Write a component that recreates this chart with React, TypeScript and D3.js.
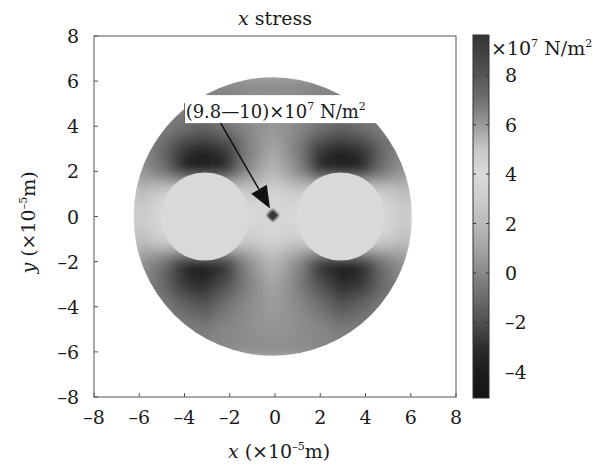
import * as d3 from 'd3';

// x stress in a fibre cross-section, values in 10^7 N/m^2
const gridX = [-6, -5, -4, -3, -2, -1, 0, 1, 2, 3, 4, 5, 6];
const gridY = [6, 5, 4, 3, 2, 1, 0, -1, -2, -3, -4, -5, -6];
const stress = [
  [0, 0, 0, 0, 0, 0.1, 0.1, 0.1, 0, 0, 0, 0, 0],
  [0, 0, -0.2, -0.4, -0.3, 0.2, 0.4, 0.2, -0.3, -0.4, -0.2, 0, 0],
  [0, -0.2, -0.8, -1.3, -0.6, 0.1, 0.6, 0.1, -0.6, -1.3, -0.8, -0.2, 0],
  [0.2, -1.0, -2.9, -3.8, -2.8, -0.3, 1.2, -0.3, -2.8, -3.8, -2.9, -1.0, 0.2],
  [0.6, -0.6, -3.9, -4.7, -3.7, 0.3, 2.0, 0.3, -3.7, -4.7, -3.9, -0.6, 0.6],
  [2.0, 3.2, 3.9, 3.9, 3.9, 3.0, 3.7, 3.0, 3.9, 3.9, 3.9, 3.2, 2.0],
  [2.7, 3.9, 3.9, 3.9, 3.9, 4.0, 4.3, 4.0, 3.9, 3.9, 3.9, 3.9, 2.7],
  [2.0, 3.2, 3.9, 3.9, 3.9, 3.0, 3.7, 3.0, 3.9, 3.9, 3.9, 3.2, 2.0],
  [0.6, -0.6, -3.7, -4.6, -3.5, 0.3, 2.0, 0.3, -3.5, -4.6, -3.7, -0.6, 0.6],
  [0.2, -1.0, -2.8, -3.4, -2.0, -0.2, 1.2, -0.2, -2.0, -3.4, -2.8, -1.0, 0.2],
  [0, -0.3, -1.2, -1.9, -0.7, 0.2, 0.7, 0.2, -0.7, -1.9, -1.2, -0.3, 0],
  [0, 0, -0.3, -0.5, 0, 0.3, 0.5, 0.3, 0, -0.5, -0.3, 0, 0],
  [0, 0, 0, 0, 0, 0.1, 0.1, 0.1, 0, 0, 0, 0, 0],
];

const fiber = { x: -0.1, y: 0, r: 6.15 };
const holeCenters = [-3.1, 2.9];
const holeRadius = 1.95;
const holeStress = 3.9;
const peak = { x: -0.1, y: 0.05, value: 9.9 };

// grey colour map (jet printed in greyscale)
const mapValues = [-5.1, -4, -3, -2, -1, 0, 1, 2, 3, 4, 5, 6, 7, 8, 9, 9.7];
const mapGreys = ['#141414', '#1c1c1c', '#2e2e2e', '#505050', '#6c6c6c', '#888888', '#a4a4a4', '#bababa',
  '#cdcdcd', '#dadada', '#c8c8c8', '#9a9a9a', '#707070', '#555555', '#404040', '#363636'];
const barDomain = [-5.06, 9.63];
const barTicks = [-4, -2, 0, 2, 4, 6, 8];
const axisTicks = [-8, -6, -4, -2, 0, 2, 4, 6, 8];

const note = { x: -3.95, y: 4.36, boxX0: -4.0, boxX1: 4.56, boxY0: 4.14, boxY1: 5.38, fromX: -2.4, fromY: 4.14, toX: -0.22, toY: 0.36 };

const FONT = '"DejaVu Serif", serif';
const INK = '#1a1a1a';
const fmt = (d: number) => (d < 0 ? `–${-d}` : `${d}`);

export default function App() {
  const x = d3.scaleLinear().domain([-8, 8]).range([94, 456]);
  const y = d3.scaleLinear().domain([-8, 8]).range([397, 36]);
  const color = d3.scaleLinear<string>().domain(mapValues).range(mapGreys).clamp(true);
  const cy = d3.scaleLinear().domain(barDomain).range([398, 35]);
  const unit = x(1) - x(0);

  const cells = stress.flatMap((row, i) =>
    row.map((v, j) => ({ gx: gridX[j] + fiber.x, gy: gridY[i] + fiber.y, v }))
  );

  // arrow head
  const ang = Math.atan2(y(note.toY) - y(note.fromY), x(note.toX) - x(note.fromX));
  const hl = 22, hw = 9;
  const tx = x(note.toX), ty = y(note.toY);
  const bx = tx - hl * Math.cos(ang), by = ty - hl * Math.sin(ang);
  const head = [
    [tx, ty],
    [bx + hw * Math.sin(ang), by - hw * Math.cos(ang)],
    [bx - hw * Math.sin(ang), by + hw * Math.cos(ang)],
  ];

  const barLeft = 473, barRight = 489;

  return (
    <svg width={615} height={465} style={{ position: 'absolute', left: 0, top: 0, background: '#fff' }} fontFamily={FONT}>
      <defs>
        <clipPath id="fiber">
          <circle cx={x(fiber.x)} cy={y(fiber.y)} r={fiber.r * unit} />
        </clipPath>
        <filter id="smooth" x="-10%" y="-10%" width="120%" height="120%">
          <feGaussianBlur stdDeviation={9} />
        </filter>
        <filter id="soft">
          <feGaussianBlur stdDeviation={1.2} />
        </filter>
        <linearGradient id="bar" x1="0" y1="1" x2="0" y2="0">
          {mapValues.map((v, i) => (
            <stop key={i} offset={(v - barDomain[0]) / (barDomain[1] - barDomain[0])} stopColor={mapGreys[i]} />
          ))}
        </linearGradient>
      </defs>

      {/* field */}
      <g clipPath="url(#fiber)">
        <g filter="url(#smooth)">
          {cells.map((c, i) => (
            <rect key={i} x={x(c.gx - 0.5)} y={y(c.gy + 0.5)} width={unit + 0.5} height={unit + 0.5} fill={color(c.v)} />
          ))}
        </g>
      </g>
      {holeCenters.map((hx, i) => (
        <circle key={i} cx={x(hx)} cy={y(fiber.y)} r={holeRadius * unit} fill={color(holeStress)} />
      ))}
      <rect x={x(peak.x) - 4.5} y={y(peak.y) - 4.5} width={9} height={9} fill={color(peak.value)}
        transform={`rotate(45 ${x(peak.x)} ${y(peak.y)})`} filter="url(#soft)" />

      {/* frame */}
      <rect x={94} y={36} width={362} height={361} fill="none" stroke="#555" strokeWidth={1} />
      {axisTicks.map((t) => (
        <g key={t} stroke="#555">
          <line x1={x(t)} x2={x(t)} y1={397} y2={393} />
          <line x1={94} x2={98} y1={y(t)} y2={y(t)} />
        </g>
      ))}
      {axisTicks.map((t) => (
        <text key={'x' + t} x={x(t)} y={424} textAnchor="middle" fontSize={19} fill={INK}>{fmt(t)}</text>
      ))}
      {axisTicks.map((t) => (
        <text key={'y' + t} x={79} y={y(t) + 7} textAnchor="end" fontSize={19} fill={INK}>{fmt(t)}</text>
      ))}

      <text x={x(0)} y={25} textAnchor="middle" fontSize={19} fill={INK}>
        <tspan fontStyle="italic">x</tspan> stress
      </text>
      <text x={x(0) + 4} y={458} textAnchor="middle" fontSize={19} fill={INK}>
        <tspan fontStyle="italic">x</tspan> (×10<tspan fontSize={11} dy={-8}>–5</tspan><tspan dy={8}>m)</tspan>
      </text>
      <text transform={`translate(35, ${y(0) + 6}) rotate(-90)`} textAnchor="middle" fontSize={19} fill={INK}>
        <tspan fontStyle="italic">y</tspan> (×10<tspan fontSize={11} dy={-8}>–5</tspan><tspan dy={8}>m)</tspan>
      </text>

      {/* annotation */}
      <rect x={x(note.boxX0)} y={y(note.boxY1)} width={x(note.boxX1) - x(note.boxX0)} height={y(note.boxY0) - y(note.boxY1)} fill="#fff" />
      <line x1={x(note.boxX0)} x2={x(note.boxX0)} y1={y(note.boxY1) + 8} y2={y(note.boxY0)} stroke="#666" />
      <text x={x(note.x)} y={y(note.y)} fontSize={18} fill={INK}>
        (9.8—10)×10<tspan fontSize={11} dy={-8}>7</tspan><tspan dy={8}> N/m</tspan><tspan fontSize={11} dy={-8}>2</tspan>
      </text>
      <line x1={x(note.fromX)} y1={y(note.fromY)} x2={bx} y2={by} stroke="#111" strokeWidth={1.5} />
      <polygon points={head.map((p) => p.join(',')).join(' ')} fill="#111" />

      {/* colour bar */}
      <rect x={barLeft} y={35} width={barRight - barLeft} height={363} fill="url(#bar)" stroke="#333" />
      {barTicks.map((t) => (
        <g key={t} stroke="#333">
          <line x1={barLeft} x2={barLeft + 3} y1={cy(t)} y2={cy(t)} />
          <line x1={barRight} x2={barRight - 3} y1={cy(t)} y2={cy(t)} />
        </g>
      ))}
      {barTicks.map((t) => (
        <text key={t} x={505} y={cy(t) + 7} fontSize={19} fill={INK}>{fmt(t)}</text>
      ))}
      <text x={491} y={55} fontSize={19} fill={INK}>
        ×10<tspan fontSize={11} dy={-8}>7</tspan><tspan dy={8}> N/m</tspan><tspan fontSize={11} dy={-8}>2</tspan>
      </text>
    </svg>
  );
}
